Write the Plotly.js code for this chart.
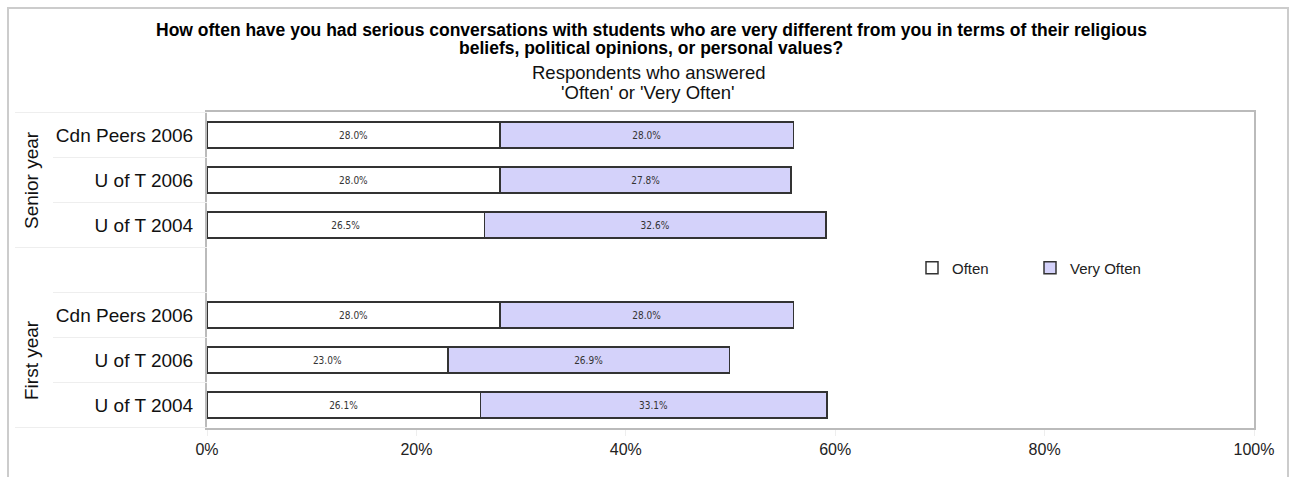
<!DOCTYPE html>
<html>
<head>
<meta charset="utf-8">
<script src="https://cdn.plot.ly/plotly-3.0.1.min.js"></script>
<style>
	html, body { margin: 0; padding: 0; background: #fff; }
	#chart { width: 1290px; height: 477px; }
</style>
</head>
<body>
<div id="chart"></div>
<script>
	// rows, top to bottom; the blank row separates the two groups
	var groupNames = ['Senior year', 'First year'];
	var rowLabels = ['Cdn Peers 2006', 'U of T 2006', 'U of T 2004'];

	var seniorOften = [28.0, 28.0, 26.5];
	var seniorVeryOften = [28.0, 27.8, 32.6];
	var firstOften = [28.0, 23.0, 26.1];
	var firstVeryOften = [28.0, 26.9, 33.1];

	var xTicks = [0, 20, 40, 60, 80, 100];

	var titleLines = [
		'How often have you had serious conversations with students who are very different from you in terms of their religious',
		'beliefs, political opinions, or personal values?'
	];
	var subtitleLines = ['Respondents who answered', '\'Often\' or \'Very Often\''];

	// plot area in pixels (used to place the things that sit outside it)
	var W = 1290, H = 477;
	var plotL = 207, plotR = 1254, plotT = 112, plotB = 428;
	function px2x(p) { return (p - plotL) / (plotR - plotL); }
	function px2y(p) { return (plotB - p) / (plotB - plotT); }

	// category keys, so duplicate labels stay separate rows
	var cats = [];
	var tickText = [];
	rowLabels.forEach(function(l) { cats.push('S|' + l); tickText.push(l); });
	cats.push('gap');
	tickText.push('');
	rowLabels.forEach(function(l) { cats.push('F|' + l); tickText.push(l); });

	var yS = rowLabels.map(function(l) { return 'S|' + l; });
	var yF = rowLabels.map(function(l) { return 'F|' + l; });

	var barText = {
		family : '"Liberation Sans Narrow", "DejaVu Sans Condensed", "Liberation Sans", sans-serif',
		size : 10,
		color : '#333'
	};

	var often = {
		x : seniorOften.concat(firstOften),
		y : yS.concat(yF),
		type : 'bar',
		orientation : 'h',
		name : 'Often',
		marker : {
			color : '#ffffff',
			line : { color : '#333', width : 1.5 }
		},
		texttemplate : '%{x:.1f}%',
		textposition : 'inside',
		insidetextanchor : 'middle',
		textfont : barText,
		constraintext : 'none',
		hoverinfo : 'skip'
	};

	var veryOften = {
		x : seniorVeryOften.concat(firstVeryOften),
		y : yS.concat(yF),
		type : 'bar',
		orientation : 'h',
		name : 'Very Often',
		marker : {
			color : '#d4d2fa',
			line : { color : '#333', width : 1.5 }
		},
		texttemplate : '%{x:.1f}%',
		textposition : 'inside',
		insidetextanchor : 'middle',
		textfont : barText,
		constraintext : 'none',
		hoverinfo : 'skip'
	};

	var data = [often, veryOften];

	// light divider lines among the row labels
	var shapes = [];
	var longLines = [-0.5, 2.5, 6.5];
	var shortLines = [0.5, 1.5, 3.5, 4.5, 5.5];
	longLines.forEach(function(v) {
		shapes.push({
			type : 'line', xref : 'paper', yref : 'y',
			x0 : px2x(15), x1 : 0, y0 : v, y1 : v,
			line : { color : '#eeeeee', width : 1 }
		});
	});
	shortLines.forEach(function(v) {
		shapes.push({
			type : 'line', xref : 'paper', yref : 'y',
			x0 : px2x(53), x1 : 0, y0 : v, y1 : v,
			line : { color : '#eeeeee', width : 1 }
		});
	});
	// outer chart frame
	shapes.push({
		type : 'rect', xref : 'paper', yref : 'paper',
		x0 : px2x(8), x1 : px2x(1288), y0 : px2y(8), y1 : px2y(490),
		line : { color : '#cccccc', width : 2 }
	});

	var labelFont = {
		family : 'Arial, "Liberation Sans", sans-serif',
		size : 19,
		color : '#111'
	};

	var annotations = [];
	var titleY = [30, 48];
	titleLines.forEach(function(t, i) {
		annotations.push({
			text : '<b>' + t + '</b>',
			xref : 'paper', yref : 'paper',
			x : px2x(651), y : px2y(titleY[i]),
			xanchor : 'center', yanchor : 'middle',
			showarrow : false,
			font : { family : 'Arial, "Liberation Sans", sans-serif', size : 17.5, color : '#000' }
		});
	});
	var subY = [72, 93];
	subtitleLines.forEach(function(t, i) {
		annotations.push({
			text : t,
			xref : 'paper', yref : 'paper',
			x : px2x(648), y : px2y(subY[i]),
			xanchor : 'center', yanchor : 'middle',
			showarrow : false,
			font : { family : 'Arial, "Liberation Sans", sans-serif', size : 18.5, color : '#111' }
		});
	});
	annotations.push({
		text : groupNames[0],
		xref : 'paper', yref : 'y',
		x : px2x(31), y : yS[1],
		xanchor : 'center', yanchor : 'middle',
		textangle : -90,
		showarrow : false,
		font : labelFont
	});
	annotations.push({
		text : groupNames[1],
		xref : 'paper', yref : 'y',
		x : px2x(31), y : yF[1],
		xanchor : 'center', yanchor : 'middle',
		textangle : -90,
		showarrow : false,
		font : labelFont
	});

	var layout = {
		width : W,
		height : H,
		barmode : 'stack',
		bargap : 0.42,
		margin : {
			l : plotL,
			r : W - plotR,
			t : plotT,
			b : H - plotB
		},
		paper_bgcolor : '#ffffff',
		plot_bgcolor : '#ffffff',
		showlegend : true,
		legend : {
			orientation : 'h',
			traceorder : 'normal',
			x : px2x(912),
			y : px2y(268),
			xanchor : 'left',
			yanchor : 'middle',
			entrywidth : 73,
			entrywidthmode : 'pixels',
			itemwidth : 30,
			bgcolor : 'rgba(0,0,0,0)',
			font : { family : 'Arial, "Liberation Sans", sans-serif', size : 15, color : '#222' }
		},
		xaxis : {
			range : [0, 100],
			tickvals : xTicks,
			ticktext : xTicks.map(function(t) { return t + '%'; }),
			showgrid : false,
			zeroline : false,
			showline : true,
			mirror : true,
			linecolor : '#bbbbbb',
			linewidth : 2,
			ticks : 'outside',
			ticklen : 6,
			tickcolor : '#eeeeee',
			tickfont : { family : 'Arial, "Liberation Sans", sans-serif', size : 16, color : '#222' }
		},
		yaxis : {
			type : 'category',
			categoryorder : 'array',
			categoryarray : cats,
			tickvals : cats,
			ticktext : tickText,
			autorange : 'reversed',
			showgrid : false,
			zeroline : false,
			showline : true,
			mirror : true,
			linecolor : '#bbbbbb',
			linewidth : 2,
			ticks : 'outside',
			ticklen : 8,
			tickcolor : 'rgba(0,0,0,0)',
			tickfont : labelFont
		},
		shapes : shapes,
		annotations : annotations
	};

	var config = {
		displayModeBar : false,
		staticPlot : true
	};
	var container = document.getElementById('chart');
	Plotly.react(container, data, layout, config);
</script>
</body>
</html>
